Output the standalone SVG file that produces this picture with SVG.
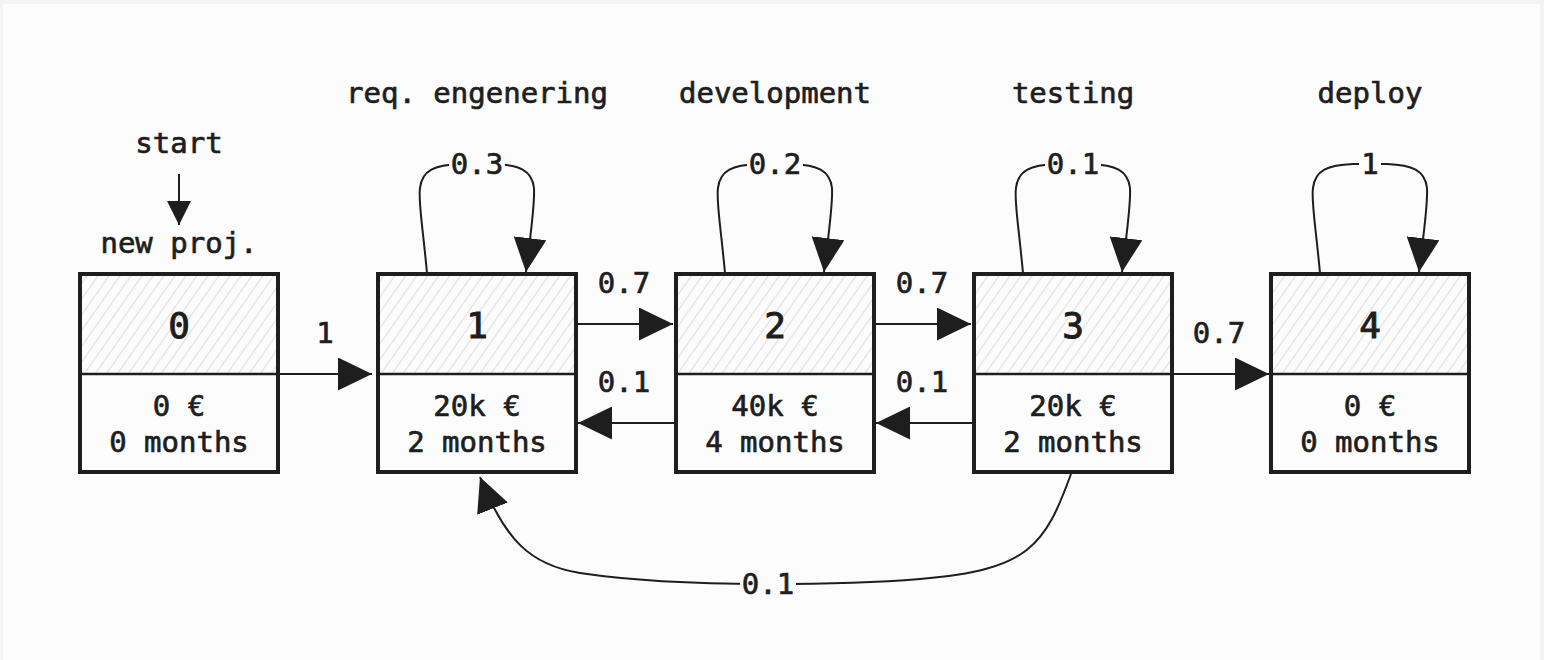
<svg xmlns="http://www.w3.org/2000/svg" width="1544" height="660" viewBox="0 0 1544 660">
  <style>
    .t { font-family: "DejaVu Sans Mono", "Liberation Mono", monospace; font-size: 29px; fill: #1e1e1e; stroke: #1e1e1e; stroke-width: 0.7px; text-anchor: middle; }
    .n { font-size: 36px; stroke-width: 1px; }
    .box { fill: none; stroke: #1e1e1e; stroke-width: 4; }
    .div { stroke: #1e1e1e; stroke-width: 2.5; }
    .edge { fill: none; stroke: #1e1e1e; stroke-width: 2; }
    .lbg { fill: #fcfcfc; }
  </style>
  <defs>
    <pattern id="hatch" patternUnits="userSpaceOnUse" width="9" height="9" patternTransform="rotate(35)">
      <line x1="4.5" y1="0" x2="4.5" y2="9" stroke="#e0e0e0" stroke-width="1.2"/>
    </pattern>
    <marker id="ah" viewBox="0 0 34 33" refX="34" refY="16.5" markerWidth="34" markerHeight="33" markerUnits="userSpaceOnUse" orient="auto">
      <path d="M0,0 L34,16.5 L0,33 z" fill="#1e1e1e"/>
    </marker>
    <marker id="ahs" viewBox="0 0 24 24" refX="24" refY="12" markerWidth="24" markerHeight="24" markerUnits="userSpaceOnUse" orient="auto">
      <path d="M0,0 L24,12 L0,24 z" fill="#1e1e1e"/>
    </marker>
  </defs>

  <rect x="0" y="0" width="1544" height="660" fill="#f3f3f3"/>
  <rect x="3" y="4" width="1537" height="656" fill="#fcfcfc"/>

  <!-- free labels -->
  <text class="t" x="179" y="153">start</text>
  <text class="t" x="179" y="253">new proj.</text>
  <text class="t" x="477" y="103">req. engenering</text>
  <text class="t" x="775" y="103">development</text>
  <text class="t" x="1073" y="103">testing</text>
  <text class="t" x="1370" y="103">deploy</text>

  <!-- nodes -->
  <g id="node0">
    <rect x="80" y="274" width="198" height="198" fill="#fcfcfc"/>
    <rect x="80" y="274" width="198" height="100" fill="url(#hatch)"/>
    <line class="div" x1="80" y1="374" x2="278" y2="374"/>
    <rect class="box" x="80" y="274" width="198" height="198"/>
    <text class="t n" x="179" y="338">0</text>
    <text class="t" x="179" y="416">0 €</text>
    <text class="t" x="179" y="452">0 months</text>
  </g>
  <g id="node1">
    <rect x="378" y="274" width="198" height="198" fill="#fcfcfc"/>
    <rect x="378" y="274" width="198" height="100" fill="url(#hatch)"/>
    <line class="div" x1="378" y1="374" x2="576" y2="374"/>
    <rect class="box" x="378" y="274" width="198" height="198"/>
    <text class="t n" x="477" y="338">1</text>
    <text class="t" x="477" y="416">20k €</text>
    <text class="t" x="477" y="452">2 months</text>
  </g>
  <g id="node2">
    <rect x="676" y="274" width="198" height="198" fill="#fcfcfc"/>
    <rect x="676" y="274" width="198" height="100" fill="url(#hatch)"/>
    <line class="div" x1="676" y1="374" x2="874" y2="374"/>
    <rect class="box" x="676" y="274" width="198" height="198"/>
    <text class="t n" x="775" y="338">2</text>
    <text class="t" x="775" y="416">40k €</text>
    <text class="t" x="775" y="452">4 months</text>
  </g>
  <g id="node3">
    <rect x="974" y="274" width="198" height="198" fill="#fcfcfc"/>
    <rect x="974" y="274" width="198" height="100" fill="url(#hatch)"/>
    <line class="div" x1="974" y1="374" x2="1172" y2="374"/>
    <rect class="box" x="974" y="274" width="198" height="198"/>
    <text class="t n" x="1073" y="338">3</text>
    <text class="t" x="1073" y="416">20k €</text>
    <text class="t" x="1073" y="452">2 months</text>
  </g>
  <g id="node4">
    <rect x="1271" y="274" width="198" height="198" fill="#fcfcfc"/>
    <rect x="1271" y="274" width="198" height="100" fill="url(#hatch)"/>
    <line class="div" x1="1271" y1="374" x2="1469" y2="374"/>
    <rect class="box" x="1271" y="274" width="198" height="198"/>
    <text class="t n" x="1370" y="338">4</text>
    <text class="t" x="1370" y="416">0 €</text>
    <text class="t" x="1370" y="452">0 months</text>
  </g>

  <!-- connectors -->
  <g id="connectors">
    <path class="edge" d="M179,174 L179,225" marker-end="url(#ahs)"/>

    <path class="edge" d="M280,374 L372,374" marker-end="url(#ah)"/>
    <text class="t" x="325" y="343">1</text>

    <path class="edge" d="M578,324 L673,324" marker-end="url(#ah)"/>
    <text class="t" x="624" y="293">0.7</text>
    <path class="edge" d="M674,423 L578,423" marker-end="url(#ah)"/>
    <text class="t" x="624" y="392">0.1</text>

    <path class="edge" d="M876,324 L971,324" marker-end="url(#ah)"/>
    <text class="t" x="922" y="293">0.7</text>
    <path class="edge" d="M972,423 L876,423" marker-end="url(#ah)"/>
    <text class="t" x="922" y="392">0.1</text>

    <path class="edge" d="M1174,374 L1269,374" marker-end="url(#ah)"/>
    <text class="t" x="1219" y="343">0.7</text>

    <path class="edge" d="M427,273 C422,220 418,200 420,188 C422,170 435,165 460,164 L494,164 C519,165 532,170 534,188 C535,205 531,230 526,272" marker-end="url(#ah)"/>
    <rect class="lbg" x="449" y="152" width="56" height="24"/>
    <text class="t" x="477" y="174">0.3</text>

    <path class="edge" d="M725,273 C720,220 716,200 718,188 C720,170 733,165 758,164 L792,164 C817,165 830,170 832,188 C833,205 829,230 824,272" marker-end="url(#ah)"/>
    <rect class="lbg" x="747" y="152" width="56" height="24"/>
    <text class="t" x="775" y="174">0.2</text>

    <path class="edge" d="M1023,273 C1018,220 1014,200 1016,188 C1018,170 1031,165 1056,164 L1090,164 C1115,165 1128,170 1130,188 C1131,205 1127,230 1122,272" marker-end="url(#ah)"/>
    <rect class="lbg" x="1045" y="152" width="56" height="24"/>
    <text class="t" x="1073" y="174">0.1</text>

    <path class="edge" d="M1320,273 C1315,220 1311,200 1313,188 C1315,170 1328,165 1353,164 L1387,164 C1412,165 1425,170 1427,188 C1428,205 1424,230 1419,272" marker-end="url(#ah)"/>
    <rect class="lbg" x="1359" y="152" width="22" height="24"/>
    <text class="t" x="1370" y="174">1</text>

    <path class="edge" d="M1071,474 C1045,545 1030,570 920,579 C860,584 800,584 768,584 C700,584 640,582 580,573 C530,565 505,540 480,477" marker-end="url(#ah)"/>
    <rect class="lbg" x="740" y="572" width="56" height="24"/>
    <text class="t" x="768" y="594">0.1</text>
  </g>
</svg>
